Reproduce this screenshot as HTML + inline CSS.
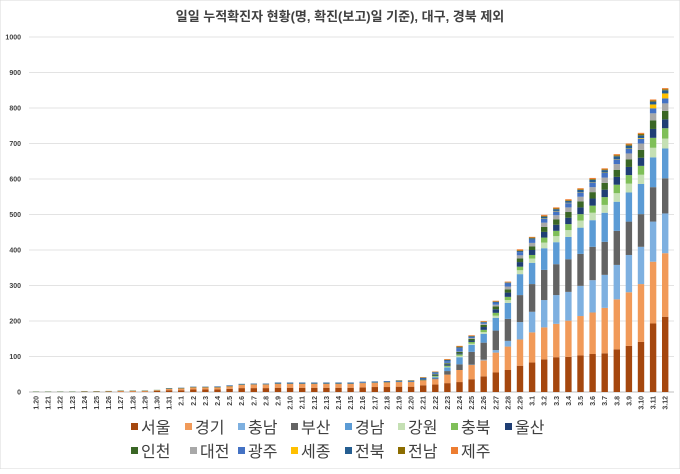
<!DOCTYPE html>
<html><head><meta charset="utf-8"><style>
body{margin:0;background:#fff;}
svg text{font-family:"Liberation Sans","Noto Sans CJK KR",sans-serif;}
</style></head><body>
<svg id="chart" width="680" height="469" xmlns="http://www.w3.org/2000/svg">
<rect width="680" height="469" fill="#fff" stroke="#d9d9d9"/>
<text x="340" y="21" text-anchor="middle" font-size="13" font-weight="bold" fill="#404040">일일 누적확진자 현황(명, 확진(보고)일 기준), 대구, 경북 제외</text>
<g id="grid"></g><g id="bars"></g><g id="xlabels"></g><g id="legend"></g>
</svg>
<script>
const dates=["1.20","1.21","1.22","1.23","1.24","1.25","1.26","1.27","1.28","1.29","1.30","1.31","2.1","2.2","2.3","2.4","2.5","2.6","2.7","2.8","2.9","2.10","2.11","2.12","2.13","2.14","2.15","2.16","2.17","2.18","2.19","2.20","2.21","2.22","2.23","2.24","2.25","2.26","2.27","2.28","2.29","3.1","3.2","3.3","3.4","3.5","3.6","3.7","3.8","3.9","3.10","3.11","3.12"];
const yTicks=[0,100,200,300,400,500,600,700,800,900,1000];
const seriesNames=["서울","경기","충남","부산","경남","강원","충북","울산","인천","대전","광주","세종","전북","전남","제주"];
const seoul=[0,0,0,0,1,1,1,1,1,1,3,5,5,7,7,7,9,11,11,11,12,12,12,12,12,12,12,13,14,14,15,15,19,21,25,28,36,44,55,62,74,83,92,98,99,103,107,109,120,130,141,193,212];
const gyeonggi=[0,0,0,0,0,0,1,2,2,2,2,4,5,6,6,6,7,9,10,10,11,11,11,11,11,11,11,12,12,13,13,13,14,15,24,34,40,45,56,66,74,85,90,94,102,111,117,128,141,151,163,174,179];
const chungnam=[0,0,0,0,0,0,0,0,0,0,0,0,0,0,0,0,0,0,0,0,0,0,0,0,0,0,0,0,0,0,0,0,0,0,0,0,1,2,7,16,49,58,77,81,81,85,91,93,97,105,105,113,112];
const busan=[0,0,0,0,0,0,0,0,0,0,0,0,0,0,0,0,0,0,0,0,0,0,0,0,0,0,0,0,0,0,0,0,0,2,10,16,36,48,55,62,76,78,85,87,92,90,94,93,96,94,92,97,99];
const gyeongnam=[0,0,0,0,0,0,0,0,0,0,0,0,0,0,0,0,0,0,0,0,0,0,0,0,0,0,0,0,0,0,0,0,0,4,10,20,20,25,36,45,59,60,61,62,63,74,75,82,82,82,85,84,84];
const gangwon=[0,0,0,0,0,0,0,0,0,0,0,0,0,0,0,0,0,0,0,0,0,0,0,0,0,0,0,0,0,0,0,0,0,1,2,4,3,5,6,8,11,12,16,17,19,20,21,22,24,25,26,27,28];
const chungbuk=[0,0,0,0,0,0,0,0,0,0,0,0,0,0,0,0,0,0,0,0,0,0,0,0,0,0,0,0,0,0,0,0,0,2,3,4,5,6,8,9,10,10,14,15,17,18,20,22,24,24,25,28,29];
const ulsan=[0,0,0,0,0,0,0,0,0,0,0,0,0,0,0,0,0,0,0,0,0,0,0,0,0,0,0,0,0,0,0,0,0,2,4,3,4,8,10,12,13,14,16,17,18,19,20,21,22,23,23,25,25];
const incheon=[1,1,1,1,1,1,1,1,1,1,1,1,1,1,1,1,1,1,1,1,1,1,1,1,1,1,1,1,1,1,1,1,2,3,3,4,5,6,8,9,10,10,14,15,16,17,18,19,20,21,22,24,24];
const daejeon=[0,0,0,0,0,0,0,0,0,0,0,0,0,0,0,0,0,0,0,0,0,0,0,0,0,0,0,0,0,0,0,0,0,1,1,1,2,3,5,8,9,10,12,12,13,13,14,15,16,17,18,20,21];
const gwangju=[0,0,0,0,0,0,0,0,0,0,0,0,0,0,0,1,1,1,1,1,2,2,2,2,2,2,2,2,2,2,2,2,3,3,5,9,3,3,6,9,9,9,11,11,12,12,13,13,13,13,13,14,14];
const sejong=[0,0,0,0,0,0,0,0,0,0,0,0,0,0,0,0,0,0,0,0,0,0,0,0,0,0,0,0,0,0,0,0,0,0,0,0,0,0,0,0,0,0,1,1,1,1,1,1,1,1,2,11,14];
const jeonbuk=[0,0,0,0,0,0,0,0,0,0,0,1,1,1,1,1,1,1,1,1,1,1,1,1,1,1,1,1,1,1,1,1,2,2,3,3,2,2,2,2,3,4,5,5,5,6,7,7,8,8,8,8,9];
const jeonnam=[0,0,0,0,0,0,0,0,0,0,0,0,0,0,0,0,0,0,0,0,0,0,0,0,0,0,0,0,0,0,1,1,1,1,1,2,1,1,1,1,2,2,2,2,2,2,2,2,3,3,4,3,3];
const jeju=[0,0,0,0,0,0,0,0,0,0,0,0,0,0,0,0,0,0,0,0,0,0,0,0,0,0,0,0,0,0,0,0,1,1,2,2,2,2,2,2,3,2,3,3,3,3,3,3,3,3,3,3,3];
const seriesData=[seoul,gyeonggi,chungnam,busan,gyeongnam,gangwon,chungbuk,ulsan,incheon,daejeon,gwangju,sejong,jeonbuk,jeonnam,jeju];
const colors=["#A5470E","#F19A59","#7EB0E0","#636363","#5B9BD5","#C5E0B4","#7FBF58","#1F3E74","#3A6625","#A8A8A8","#4472C4","#FFC000","#255E91","#8C6D00","#ED7D31"];
const keys=["seoul","gyeonggi","chungnam","busan","gyeongnam","gangwon","chungbuk","ulsan","incheon","daejeon","gwangju","sejong","jeonbuk","jeonnam","jeju"];
const NS="http://www.w3.org/2000/svg";
const y0=392,y1=37,vmax=1000,x0=36,step=12.1,bw=6.4;
function yS(v){return y0-(v/vmax)*(y0-y1);}
function xS(i){return x0+i*step;}
const grid=document.getElementById('grid');
yTicks.forEach(t=>{
 const l=document.createElementNS(NS,'line');
 
 
 l.setAttribute('x1',29);l.setAttribute('x2',674);l.setAttribute('y1',yS(t));l.setAttribute('y2',yS(t));
 l.setAttribute('stroke',t===0?'#bfbfbf':'#e3e3e3');l.setAttribute('stroke-width','1');
 grid.appendChild(l);
 const tx=document.createElementNS(NS,'text');
 
 
 tx.setAttribute('x',21);tx.setAttribute('y',yS(t)+2.5);tx.setAttribute('text-anchor','end');
 tx.setAttribute('font-size','7');tx.setAttribute('font-weight','bold');tx.setAttribute('fill','#404040');
 tx.textContent=t;grid.appendChild(tx);
});
const bars=document.getElementById('bars');
dates.forEach((d,i)=>{
 let acc=0;
 seriesData.forEach((arr,s)=>{
  const v=arr[i];if(!v)return;
  const r=document.createElementNS(NS,'rect');
  
  
  r.setAttribute('x',xS(i)-bw/2);r.setAttribute('width',bw);
  r.setAttribute('y',yS(acc+v));r.setAttribute('height',yS(acc)-yS(acc+v));
  r.setAttribute('fill',colors[s]);
  bars.appendChild(r);acc+=v;
 });
});
const xl=document.getElementById('xlabels');
dates.forEach((d,i)=>{
 const t=document.createElementNS(NS,'text');
 
 
 const x=xS(i)+2.5,y=396;
 t.setAttribute('x',x);t.setAttribute('y',y);
 t.setAttribute('transform','rotate(-90 '+x+' '+y+')');
 t.setAttribute('text-anchor','end');t.setAttribute('font-size','7');t.setAttribute('font-weight','bold');t.setAttribute('fill','#404040');
 t.textContent=d;xl.appendChild(t);
});
const lg=document.getElementById('legend');
const row1=[131,185,238,291,345,398,451,505], row2=[131,190,238,291,345,398,451];
seriesNames.forEach((n,s)=>{
 const r1=s<8;const x=r1?row1[s]:row2[s-8];const y=r1?428:452;
 const g=document.createElementNS(NS,'g');
 
 
 const r=document.createElementNS(NS,'rect');
 r.setAttribute('x',x);r.setAttribute('y',y-5);r.setAttribute('width',7);r.setAttribute('height',7);r.setAttribute('fill',colors[s]);
 g.appendChild(r);
 const t=document.createElementNS(NS,'text');
 t.setAttribute('x',x+10);t.setAttribute('y',y+5);t.setAttribute('font-size','16');t.setAttribute('fill','#404040');
 t.textContent=n;g.appendChild(t);lg.appendChild(g);
});
</script>
</body></html>
